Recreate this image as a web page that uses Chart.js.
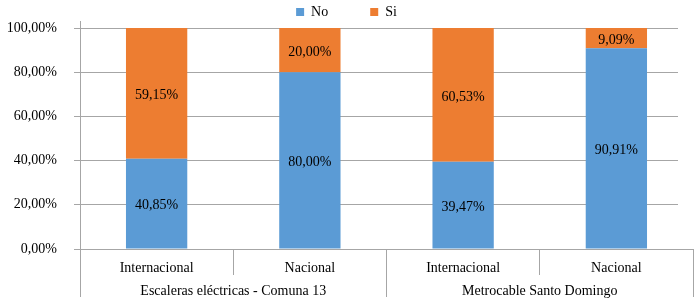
<!DOCTYPE html>
<html><head><meta charset="utf-8">
<script src="https://cdn.jsdelivr.net/npm/chart.js@4/dist/chart.umd.min.js"></script>
<style>html,body{margin:0;padding:0;background:#fff}#wrap{width:700px;height:301px}</style>
</head><body><div id="wrap"><canvas id="c"></canvas></div>
<script>
const categories = ['Internacional', 'Nacional', 'Internacional', 'Nacional'];
const groups = ['Escaleras eléctricas - Comuna 13', 'Metrocable Santo Domingo'];
const seriesNames = ['No', 'Si'];
const noValues = [40.85, 80.00, 39.47, 90.91];
const siValues = [59.15, 20.00, 60.53, 9.09];
const yTicks = [0, 20, 40, 60, 80, 100];

const FONT = "'Liberation Serif', 'Times New Roman', serif";
const GRID = '#a6a6a6';
const fmt = v => v.toFixed(2).replace('.', ',') + '%';
const tickFont = {family: FONT, size: 14};
Chart.defaults.font.family = FONT;
Chart.defaults.font.size = 14;
Chart.defaults.color = '#000';

const dataLabels = {
  id: 'dataLabels',
  afterDatasetsDraw(chart) {
    const ctx = chart.ctx;
    ctx.save();
    ctx.font = '14px ' + FONT;
    ctx.fillStyle = '#000';
    ctx.textAlign = 'center';
    ctx.textBaseline = 'middle';
    chart.data.datasets.forEach((ds, i) => {
      const meta = chart.getDatasetMeta(i);
      meta.data.forEach((bar, j) => {
        const p = bar.getProps(['x', 'y', 'base'], true);
        ctx.fillText(fmt(ds.data[j]), p.x, (p.y + p.base) / 2 + 2);
      });
    });
    ctx.restore();
  }
};

const gridTrim = {
  id: 'gridTrim',
  beforeDatasetsDraw(chart) {
    const {ctx, chartArea} = chart;
    ctx.save();
    ctx.fillStyle = '#fff';
    ctx.fillRect(chartArea.right - 15, chartArea.top - 2, 16, chartArea.bottom - (chartArea.top - 2));
    ctx.restore();
  }
};

new Chart(document.getElementById('c'), {
  type: 'bar',
  data: {
    labels: categories,
    datasets: [
      {label: seriesNames[0], data: noValues, backgroundColor: '#5B9BD5', xAxisID: 'x', yAxisID: 'y'},
      {label: seriesNames[1], data: siValues, backgroundColor: '#ED7D31', xAxisID: 'x', yAxisID: 'y'}
    ]
  },
  options: {
    responsive: true,
    maintainAspectRatio: false,
    animation: false,
    layout: {padding: {top: -37, left: 0, right: 7, bottom: 0}},
    datasets: {bar: {categoryPercentage: 1, barPercentage: 0.4}},
    plugins: {
      legend: {
        position: 'top',
        maxHeight: 58,
        labels: {boxWidth: 8, boxHeight: 8, padding: 42, color: '#000', font: tickFont}
      },
      tooltip: {enabled: false}
    },
    scales: {
      x: {
        stacked: true,
        weight: 0,
        offset: true,
        grid: {offset: true, drawOnChartArea: false, tickLength: 26, color: GRID},
        border: {display: true, color: GRID},
        ticks: {padding: -15, color: '#000', font: tickFont, maxRotation: 0, autoSkip: false},
        afterFit(s) { s.height = 26; }
      },
      x2: {
        type: 'category',
        labels: groups,
        position: 'bottom',
        weight: 1,
        offset: true,
        grid: {offset: true, drawOnChartArea: false, tickLength: 22, color: GRID},
        border: {display: false},
        ticks: {padding: -14, color: '#000', font: tickFont, maxRotation: 0, autoSkip: false},
        afterFit(s) { s.height = 26; }
      },
      y: {
        stacked: true,
        min: 0,
        max: 103.2,
        ticks: {padding: 17, color: '#000', font: tickFont, callback: v => fmt(v)},
        grid: {color: GRID, tickLength: 6},
        border: {color: GRID},
        afterBuildTicks(s) { s.ticks = yTicks.map(v => ({value: v})); },
        afterFit(s) { s.width = 80; s.paddingTop = 0; s.paddingBottom = 0; }
      }
    }
  },
  plugins: [gridTrim, dataLabels]
});
</script>
</body></html>
